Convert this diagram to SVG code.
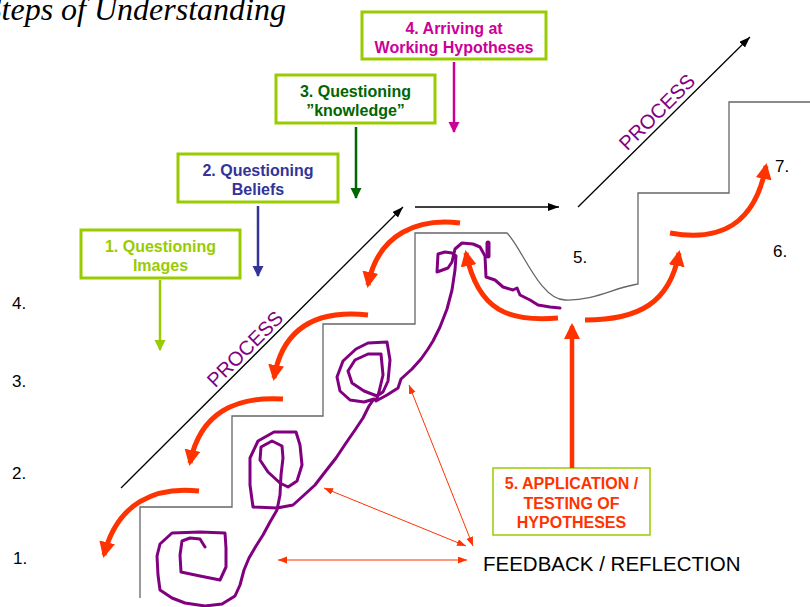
<svg xmlns="http://www.w3.org/2000/svg" width="810" height="607" viewBox="0 0 810 607">
  <style>
    .box { fill: #ffffff; stroke: #99cc00; stroke-width: 3; }
    .lbl { font-family: "Liberation Sans", Arial, sans-serif; font-weight: bold; font-size: 16px; text-anchor: middle; }
    .num { font-family: "Liberation Sans", Arial, sans-serif; font-size: 17px; fill: #000; }
    .proc { font-family: "Liberation Sans", Arial, sans-serif; font-size: 20px; fill: #800080; text-anchor: middle; }
    .stair { fill: none; stroke: #666666; stroke-width: 1.3; }
    .blk { fill: none; stroke: #000; stroke-width: 1.3; marker-end: url(#blackHead); }
    .red { fill: none; stroke: #ff3300; stroke-width: 5; marker-end: url(#redHead); }
    .thin { fill: none; stroke: #ff3300; stroke-width: 1; marker-start: url(#thinHead); marker-end: url(#thinHead); }
    .scrib { fill: none; stroke: #800080; stroke-width: 3; stroke-linejoin: round; stroke-linecap: round; }
  </style>
  <defs>
    <marker id="blackHead" markerUnits="userSpaceOnUse" markerWidth="12" markerHeight="10" refX="11" refY="4" orient="auto">
      <path d="M0,0 L11,4 L0,8 z" fill="#000"/>
    </marker>
    <marker id="redHead" markerUnits="userSpaceOnUse" markerWidth="18" markerHeight="18" refX="13" refY="8" orient="auto">
      <path d="M0,0 L16,8 L0,16 z" fill="#ff3300"/>
    </marker>
    <marker id="thinHead" markerUnits="userSpaceOnUse" markerWidth="10" markerHeight="8" refX="9" refY="3.5" orient="auto-start-reverse">
      <path d="M0,0 L9,3.5 L0,7 z" fill="#ff3300"/>
    </marker>
    <marker id="limeHead" markerUnits="userSpaceOnUse" markerWidth="12" markerHeight="12" refX="10" refY="5.5" orient="auto">
      <path d="M0,0 L11,5.5 L0,11 z" fill="#99cc00"/>
    </marker>
    <marker id="blueHead" markerUnits="userSpaceOnUse" markerWidth="12" markerHeight="12" refX="10" refY="5.5" orient="auto">
      <path d="M0,0 L11,5.5 L0,11 z" fill="#333399"/>
    </marker>
    <marker id="greenHead" markerUnits="userSpaceOnUse" markerWidth="12" markerHeight="12" refX="10" refY="5.5" orient="auto">
      <path d="M0,0 L11,5.5 L0,11 z" fill="#006600"/>
    </marker>
    <marker id="magentaHead" markerUnits="userSpaceOnUse" markerWidth="12" markerHeight="12" refX="10" refY="5.5" orient="auto">
      <path d="M0,0 L11,5.5 L0,11 z" fill="#cc0099"/>
    </marker>
  </defs>

  <rect width="810" height="607" fill="#ffffff"/>

  <!-- title, running off the left edge -->
  <text x="286" y="20" font-family="'Liberation Serif', 'Times New Roman', serif" font-style="italic" font-size="32" text-anchor="end" fill="#000">Steps of Understanding</text>

  <!-- staircase outline -->
  <path id="stairs" class="stair" d="M140,598 V507 H232 V416 H323 V324 H415 V233 H507 C522,248 540,300 565,300 C592,301 612,289 633,285 L638,284 V193 H729 V102 H810"/>

  <!-- level numbers -->
  <g id="levels">
    <text class="num" x="12" y="309">4.</text>
    <text class="num" x="12" y="387">3.</text>
    <text class="num" x="12" y="479">2.</text>
    <text class="num" x="13" y="564">1.</text>
    <text class="num" x="573" y="263">5.</text>
    <text class="num" x="773" y="257">6.</text>
    <text class="num" x="775" y="172">7.</text>
  </g>

  <!-- question boxes -->
  <g id="box1">
    <rect class="box" x="81" y="230" width="159" height="48"/>
    <text class="lbl" fill="#99cc00" x="160.5" y="252">1. Questioning</text>
    <text class="lbl" fill="#99cc00" x="160.5" y="271">Images</text>
  </g>
  <g id="box2">
    <rect class="box" x="178" y="154" width="160" height="48"/>
    <text class="lbl" fill="#333399" x="258" y="176">2. Questioning</text>
    <text class="lbl" fill="#333399" x="258" y="195">Beliefs</text>
  </g>
  <g id="box3">
    <rect class="box" x="276" y="75" width="159" height="48"/>
    <text class="lbl" fill="#006600" x="355.5" y="97">3. Questioning</text>
    <text class="lbl" fill="#006600" x="355.5" y="116">”knowledge”</text>
  </g>
  <g id="box4">
    <rect class="box" x="362" y="12" width="184" height="47"/>
    <text class="lbl" fill="#cc0099" x="454" y="34">4. Arriving at</text>
    <text class="lbl" fill="#cc0099" x="454" y="53">Working Hypotheses</text>
  </g>
  <g id="box5">
    <rect x="493" y="468" width="157" height="67" fill="#ffffff" stroke="#99cc00" stroke-width="1.5"/>
    <text class="lbl" fill="#ff3300" x="571.5" y="489">5. APPLICATION /</text>
    <text class="lbl" fill="#ff3300" x="571.5" y="509">TESTING OF</text>
    <text class="lbl" fill="#ff3300" x="571.5" y="528">HYPOTHESES</text>
  </g>

  <g id="feedback">
    <text x="483" y="571" font-family="'Liberation Sans', Arial, sans-serif" font-size="20.5" fill="#000">FEEDBACK / REFLECTION</text>
  </g>

  <!-- process labels -->
  <g id="process-labels">
    <text class="proc" transform="translate(245,349) rotate(-45)" dy="7">PROCESS</text>
    <text class="proc" transform="translate(657,112) rotate(-45)" dy="7">PROCESS</text>
  </g>

  <!-- purple learning scribble -->
  <g id="scribble">
    <path class="scrib" d="M205,547 L200,539 L190,538 L182,541 L180,555 L181,572 L200,576 L220,580 L226,567 L226,548 L225,533 L200,532 L172,533 L160,544 L157,556 L158,575 L160,590 L172,598 L185,603 L205,606 L222,604 L235,596 L240,585 L244,570 L249,558 L256,546 L263,535 L270,522 L277,510 L280,495 L281,475 L283,458 L282,446 L272,441 L261,447 L260,460 L268,472 L280,483 L288,487 L297,481 L302,465 L300,445 L296,432 L274,432 L258,441 L250,458 L250,485 L253,507 L277,508 L293,505 L303,496 L315,485 L325,472 L336,458 L346,443 L355,430 L363,418 L369,406 L374,399 L364,402 L350,400 L340,391 L337,377 L343,361 L356,349 L368,343 L387,342 L390,360 L388,381 L383,392 L377,396 L364,391 L352,383 L348,371 L355,360 L368,354 L381,354 L383,375 L379,392 L376,401 L387,395 L398,388 L401,379 L412,369 L421,359 L428,349 L433,341 L440,327 L447,309 L452,290 L455,270 L456,256 L452,253 L445,252 L438,254 L437,272 L448,268 L452,262 L455,249 L462,243 L473,244 L480,247 L485,256 L486,277 L495,280 L503,287 L513,290 L517,288 L520,295 L530,300 L538,305 L550,307 L560,308"/>
    <path d="M488,243 L488,256" fill="none" stroke="#800080" stroke-width="5" stroke-linecap="round"/>
  </g>

  <!-- connectors -->
  <g id="connectors">
    <!-- box pointers -->
    <path d="M160,280 L160,350" fill="none" stroke="#99cc00" stroke-width="2.5" marker-end="url(#limeHead)"/>
    <path d="M258,206 L258,276" fill="none" stroke="#333399" stroke-width="2.5" marker-end="url(#blueHead)"/>
    <path d="M356,127 L356,198" fill="none" stroke="#006600" stroke-width="2.5" marker-end="url(#greenHead)"/>
    <path d="M454,62 L454,132" fill="none" stroke="#cc0099" stroke-width="2.5" marker-end="url(#magentaHead)"/>

    <!-- process direction -->
    <path class="blk" d="M121,488 L403,207"/>
    <path class="blk" d="M415,207 L559,207"/>
    <path class="blk" d="M578,207 L750,37"/>

    <!-- descending / ascending steps -->
    <path class="red" d="M460,223 C420,218 378,232 368,285"/>
    <path class="red" d="M368,315 C320,310 283,325 274,378"/>
    <path class="red" d="M283,399 C237,396 200,412 190,463"/>
    <path class="red" d="M199,491 C155,486 117,503 104,555"/>
    <path class="red" d="M558,318 C510,322 478,312 466,253"/>
    <path class="red" d="M585,320 C640,320 670,302 679,253"/>
    <path class="red" d="M670,233 C720,242 755,225 766,166"/>
    <path d="M572,468 L572,326" fill="none" stroke="#ff3300" stroke-width="4.5" marker-end="url(#redHead)"/>

    <!-- feedback links -->
    <path class="thin" d="M409,385 L473,546"/>
    <path class="thin" d="M324,488 L466,546"/>
    <path class="thin" d="M278,560 L467,560"/>
  </g>
</svg>
